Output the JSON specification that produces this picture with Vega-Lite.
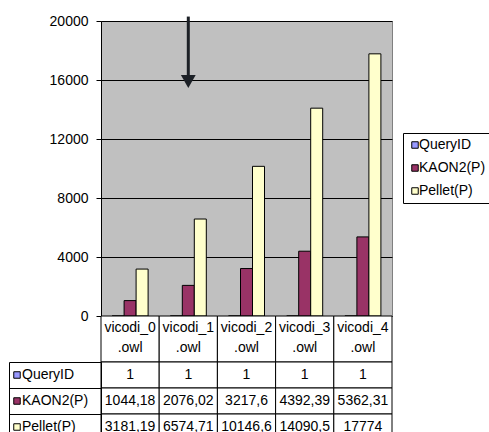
{
  "$schema": "https://vega.github.io/schema/vega-lite/v6.json",
  "padding": {"left": 8, "top": 13, "right": 0, "bottom": 0},
  "background": "white",
  "spacing": 0,
  "bounds": "flush",
  "config": {
    "font": "Liberation Sans",
    "axis": {"labelFont": "Liberation Sans", "labelFontSize": 14, "labelColor": "black"},
    "legend": {"labelFont": "Liberation Sans", "labelFontSize": 14, "labelColor": "black"}
  },
  "datasets": {
    "runtimes": [
      {"file": "vicodi_0.owl", "series": "QueryID", "value": 1},
      {"file": "vicodi_0.owl", "series": "KAON2(P)", "value": 1044.18},
      {"file": "vicodi_0.owl", "series": "Pellet(P)", "value": 3181.19},
      {"file": "vicodi_1.owl", "series": "QueryID", "value": 1},
      {"file": "vicodi_1.owl", "series": "KAON2(P)", "value": 2076.02},
      {"file": "vicodi_1.owl", "series": "Pellet(P)", "value": 6574.71},
      {"file": "vicodi_2.owl", "series": "QueryID", "value": 1},
      {"file": "vicodi_2.owl", "series": "KAON2(P)", "value": 3217.6},
      {"file": "vicodi_2.owl", "series": "Pellet(P)", "value": 10146.6},
      {"file": "vicodi_3.owl", "series": "QueryID", "value": 1},
      {"file": "vicodi_3.owl", "series": "KAON2(P)", "value": 4392.39},
      {"file": "vicodi_3.owl", "series": "Pellet(P)", "value": 14090.5},
      {"file": "vicodi_4.owl", "series": "QueryID", "value": 1},
      {"file": "vicodi_4.owl", "series": "KAON2(P)", "value": 5362.31},
      {"file": "vicodi_4.owl", "series": "Pellet(P)", "value": 17774}
    ],
    "files": [
      {"file": "vicodi_0.owl"}, {"file": "vicodi_1.owl"}, {"file": "vicodi_2.owl"}, {"file": "vicodi_3.owl"}, {"file": "vicodi_4.owl"}
    ]
  },
  "resolve": {
    "scale": {"x": "independent", "y": "independent", "color": "shared"},
    "legend": {"color": "independent"}
  },
  "vconcat": [
    {
      "width": 291,
      "height": 295,
      "view": {"fill": "#c0c0c0", "stroke": "#808080", "strokeWidth": 1},
      "layer": [
        {
          "data": {"name": "runtimes"},
          "mark": {"type": "bar", "stroke": "black", "strokeWidth": 1},
          "encoding": {
            "x": {
              "field": "file", "type": "nominal",
              "scale": {"domain": ["vicodi_0.owl", "vicodi_1.owl", "vicodi_2.owl", "vicodi_3.owl", "vicodi_4.owl"], "paddingInner": 0, "paddingOuter": 0},
              "axis": null
            },
            "xOffset": {
              "field": "series", "type": "nominal",
              "scale": {"domain": ["QueryID", "KAON2(P)", "Pellet(P)"], "paddingInner": 0, "paddingOuter": 0.925}
            },
            "y": {
              "field": "value", "type": "quantitative",
              "scale": {"domain": [0, 20000], "nice": false},
              "axis": {
                "title": null,
                "values": [0, 2000, 4000, 6000, 8000, 10000, 12000, 14000, 16000, 18000, 20000],
                "format": "d", "labelOverlap": false, "grid": true, "gridColor": "black", "gridOpacity": 1,
                "tickColor": "black", "tickSize": 5, "domainColor": "black", "labelPadding": 8
              }
            },
            "color": {
              "field": "series", "type": "nominal",
              "scale": {"domain": ["QueryID", "KAON2(P)", "Pellet(P)"], "range": ["#9999ff", "#993366", "#ffffcc"]},
              "legend": {
                "orient": "none", "legendX": 302, "legendY": 112, "title": null,
                "strokeColor": "black", "fillColor": "white", "padding": 5,
                "symbolType": "square", "symbolSize": 42, "symbolStrokeColor": "black", "symbolStrokeWidth": 1,
                "rowPadding": 9, "labelLimit": 0, "labelOffset": -3
              }
            }
          }
        },
        {
          "data": {"values": [{"file": "vicodi_1.owl", "value": 20300, "value2": 16300}]},
          "mark": {"type": "rule", "strokeWidth": 3, "color": "#1c2026"},
          "encoding": {
            "x": {"field": "file", "type": "nominal"},
            "y": {"field": "value", "type": "quantitative"},
            "y2": {"field": "value2"}
          }
        },
        {
          "data": {"values": [{"file": "vicodi_1.owl", "value": 15900}]},
          "mark": {"type": "point", "shape": "triangle-down", "filled": true, "size": 220, "color": "#1c2026", "opacity": 1},
          "encoding": {
            "x": {"field": "file", "type": "nominal"},
            "y": {"field": "value", "type": "quantitative"}
          }
        }
      ]
    },
    {
      "width": 291,
      "height": 46,
      "view": {"stroke": null},
      "data": {"name": "files"},
      "transform": [
        {"calculate": "substring(datum.file, 0, 8)", "as": "line1"},
        {"calculate": "substring(datum.file, 8)", "as": "line2"}
      ],
      "encoding": {
        "x": {
          "field": "file", "type": "nominal",
          "scale": {"domain": ["vicodi_0.owl", "vicodi_1.owl", "vicodi_2.owl", "vicodi_3.owl", "vicodi_4.owl"], "paddingInner": 0, "paddingOuter": 0},
          "axis": null
        }
      },
      "layer": [
        {"mark": {"type": "rect", "fill": "white", "stroke": "black", "strokeWidth": 1}},
        {"mark": {"type": "text", "fontSize": 14, "color": "black", "dy": -11}, "encoding": {"text": {"field": "line1", "type": "nominal"}}},
        {"mark": {"type": "text", "fontSize": 14, "color": "black", "dy": 9}, "encoding": {"text": {"field": "line2", "type": "nominal"}}}
      ]
    },
    {
      "width": 291,
      "height": 78,
      "view": {"stroke": null},
      "data": {"name": "runtimes"},
      "transform": [
        {"calculate": "replace(format(datum.value, '~f'), '.', ',')", "as": "shown"}
      ],
      "layer": [
        {
          "mark": {"type": "rect", "fill": "white", "stroke": "black", "strokeWidth": 1},
          "encoding": {
            "x": {"field": "file", "type": "nominal", "scale": {"domain": ["vicodi_0.owl", "vicodi_1.owl", "vicodi_2.owl", "vicodi_3.owl", "vicodi_4.owl"], "paddingInner": 0, "paddingOuter": 0}, "axis": null},
            "y": {"field": "series", "type": "nominal", "scale": {"domain": ["QueryID", "KAON2(P)", "Pellet(P)"], "paddingInner": 0, "paddingOuter": 0},
                  "axis": {"orient": "left", "title": null, "labels": false, "bandPosition": 0, "tickSize": 92, "tickColor": "black", "domainColor": "black"}}
          }
        },
        {
          "mark": {"type": "text", "fontSize": 14, "color": "black"},
          "encoding": {
            "x": {"field": "file", "type": "nominal", "axis": null},
            "y": {"field": "series", "type": "nominal", "axis": null},
            "text": {"field": "shown", "type": "nominal"}
          }
        },
        {
          "mark": {"type": "square", "opacity": 0},
          "encoding": {
            "x": {"field": "file", "type": "nominal", "axis": null},
            "y": {"field": "series", "type": "nominal", "axis": {"orient": "left", "title": null, "labels": false, "ticks": false, "offset": 92, "domainColor": "black"}},
            "color": {
              "field": "series", "type": "nominal",
              "legend": {
                "orient": "none", "legendX": -91, "legendY": 6, "title": null,
                "symbolType": "square", "symbolSize": 42, "symbolStrokeColor": "black", "symbolStrokeWidth": 1,
                "symbolOpacity": 1, "rowPadding": 12, "padding": 0, "labelLimit": 0, "labelOffset": -2
              }
            }
          }
        }
      ],
      "resolve": {"axis": {"y": "independent"}}
    }
  ]
}
